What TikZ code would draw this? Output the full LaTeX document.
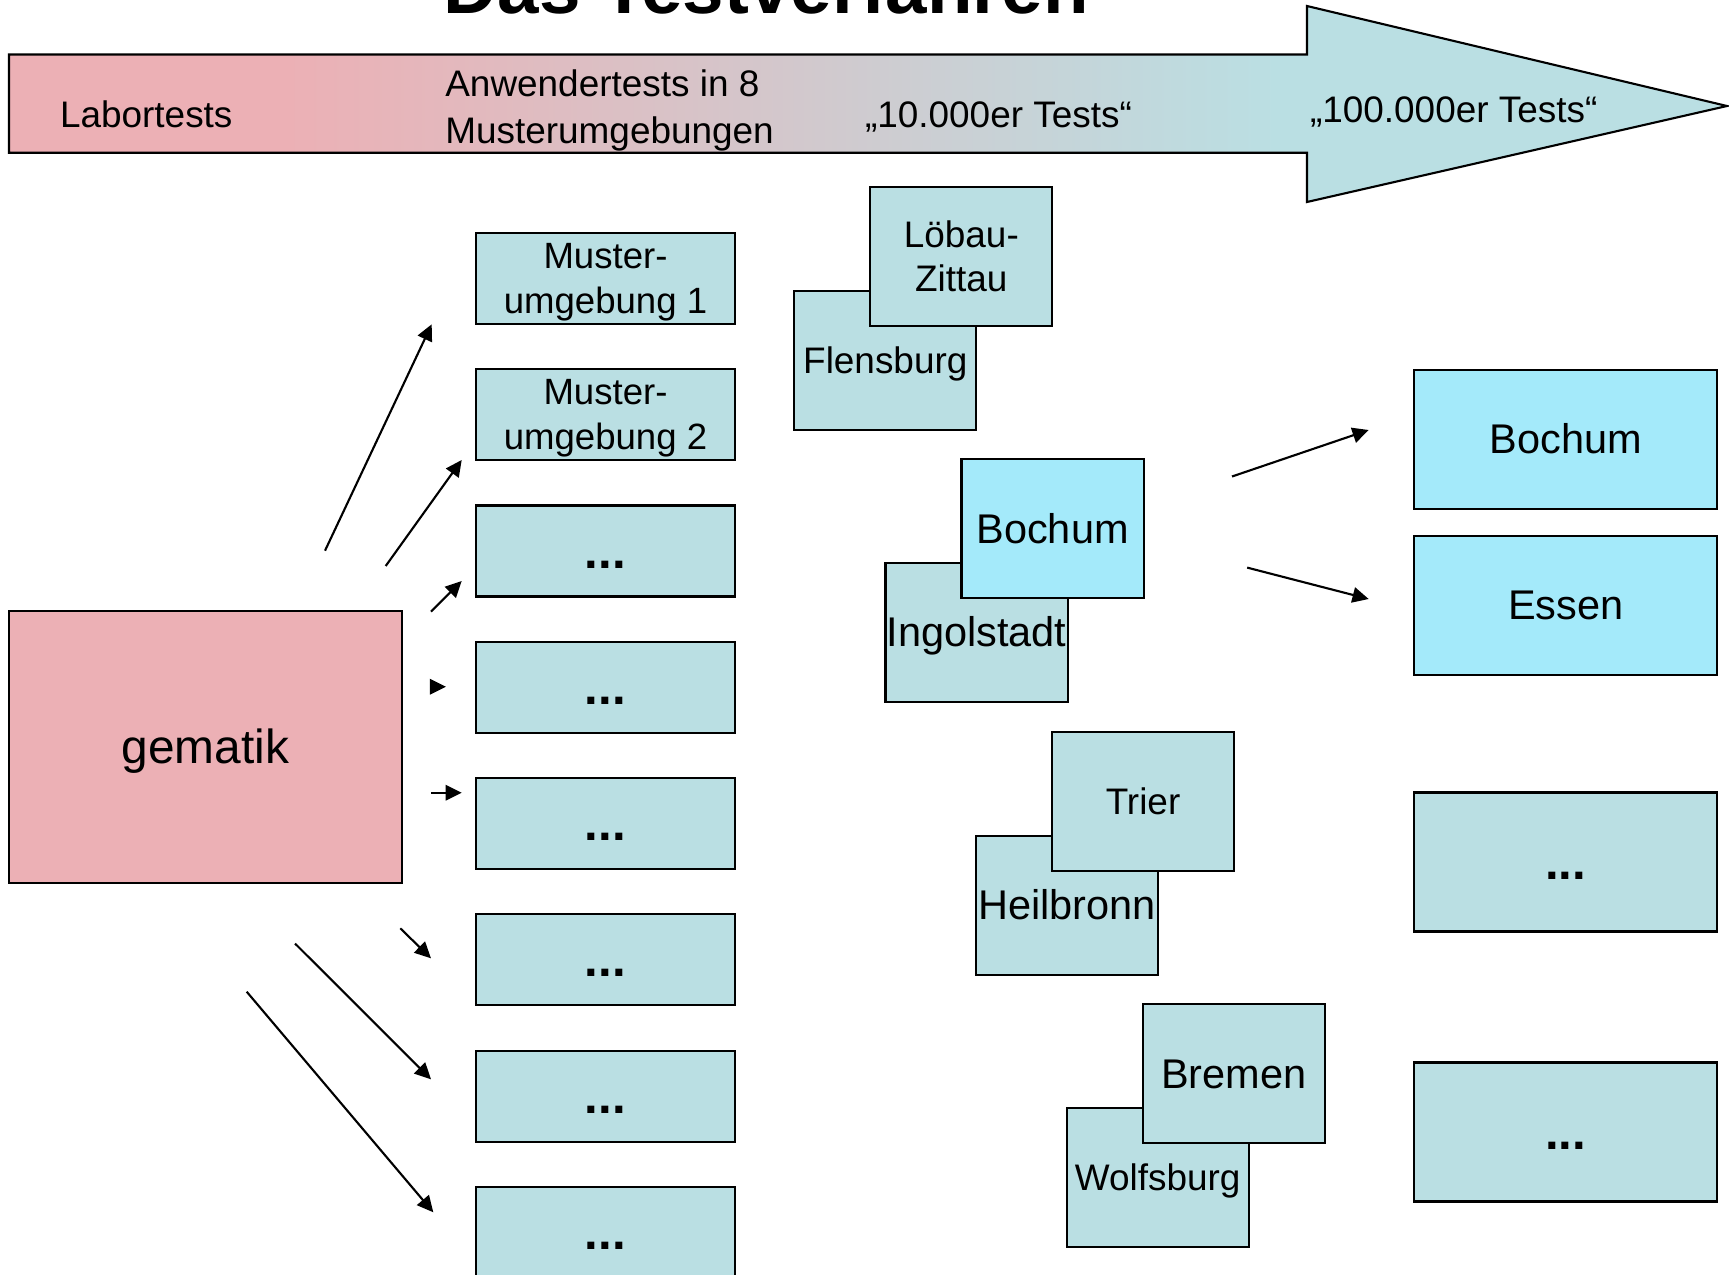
\documentclass[tikz,border=0pt]{standalone}
\usepackage{fontspec}
\setmainfont{Liberation Sans}
\usetikzlibrary{arrows.meta,positioning}

\definecolor{pinkc}{RGB}{236,176,181}
\definecolor{tealc}{RGB}{186,223,227}
\definecolor{cyanc}{RGB}{164,234,250}
\pgfdeclarehorizontalshading{bannershade}{100bp}{color(0bp)=(pinkc); color(33bp)=(pinkc); color(62bp)=(tealc); color(100bp)=(tealc)}
\newcommand{\lnstrut}{\rule[-0.212em]{0pt}{1.117em}}

\begin{document}
\begin{tikzpicture}[x=0.01cm,y=-0.01cm,>={Triangle[length=4.6pt,width=4.4pt]},
    line width=0.6pt,
    boxed/.style={draw,inner sep=0pt,line width=0.6pt},
    label text/.style={inner sep=0pt,font=\fontsize{10.5}{13.2}\selectfont},
    muster node/.style={boxed,fill=tealc,minimum width=2.58cm,minimum height=0.91cm,
      align=center,font=\fontsize{10.4}{12.8}\selectfont},
    city node/.style={boxed,fill=tealc,minimum width=1.82cm,minimum height=1.39cm,
      align=center,font=\fontsize{10.5}{12.7}\selectfont},
    big city/.style={city node,font=\fontsize{11.8}{14}\selectfont},
    site node/.style={boxed,minimum width=3.03cm,minimum height=1.39cm,
      font=\fontsize{11.8}{14}\selectfont},
    dots text/.style={font=\bfseries\fontsize{14}{16}\selectfont}]

\useasboundingbox (0,0) rectangle (1729,1275);

% title, cut at the top
\node[font=\bfseries\fontsize{21.2}{25}\selectfont,anchor=base,inner sep=0pt] (title) at (766.5,13) {Das Testverfahren};

% banner arrow
\shadedraw[shading=bannershade,line width=0.6pt] (9,54.5) -- (1307,54.5) -- (1307,6)
  -- (1727,106) -- (1307,202) -- (1307,152.7) -- (9,152.7) -- cycle;
\node[label text,anchor=west] (lab) at (59,114.6) {\lnstrut Labortests};
\node[label text,anchor=west,align=left] (anw) at (444.3,107.3) {\lnstrut Anwendertests in 8\\Musterumgebungen\lnstrut};
\node[label text,anchor=west] (t10) at (864,114.3) {\lnstrut „10.000er Tests“};
\node[label text,anchor=west] (t100) at (1309,110) {\lnstrut „100.000er Tests“};

\node[boxed,fill=pinkc,minimum width=3.93cm,minimum height=2.72cm,
  font=\fontsize{13.6}{16}\selectfont] (gem) at (205.3,747.2) {\lnstrut gematik};

% Musterumgebungen
\node[muster node] (m1) at (605.5,278.4) {\lnstrut Muster-\\umgebung 1\lnstrut};
\node[muster node] (m2) at (605.5,414.7) {\lnstrut Muster-\\umgebung 2\lnstrut};
\foreach \i in {3,...,8}
  \node[muster node,dots text] (m\i) at (605.5,{278.4+136.3*(\i-1)}) {\lnstrut...};

% 10.000er Tests
\node[city node] (flb) at (885.3,360.2) {\lnstrut Flensburg};
\node[city node,xshift=0.76cm,yshift=1.035cm] (lz) at (flb) {\lnstrut Löbau-\\Zittau\lnstrut};
\node[big city] (ing) at (976.5,632.3) {\lnstrut Ingolstadt};
\node[big city,fill=cyanc,xshift=0.76cm,yshift=1.035cm] (boc) at (ing) {\lnstrut Bochum};
\node[big city] (hei) at (1067,905.1) {\lnstrut Heilbronn};
\node[city node,xshift=0.76cm,yshift=1.035cm] (tri) at (hei) {\lnstrut Trier};
\node[city node] (wob) at (1157.7,1177.2) {\lnstrut Wolfsburg};
\node[big city,xshift=0.76cm,yshift=1.035cm] (bre) at (wob) {\lnstrut Bremen};

% 100.000er Tests
\node[site node,fill=cyanc] (rb) at (1565.8,439.4) {\lnstrut Bochum};
\node[site node,fill=cyanc] (re) at (1565.8,605.2) {\lnstrut Essen};
\node[site node,fill=tealc,dots text] (r3) at (1565.8,862) {\lnstrut...};
\node[site node,fill=tealc,dots text] (r4) at (1565.8,1132) {\lnstrut...};

% arrows
\coordinate (s1) at (325,550.7);    \coordinate (e1) at (431.7,324.3);
\coordinate (s2) at (385.7,566);    \coordinate (e2) at (461.7,460);
\coordinate (s3) at (431,611.7);    \coordinate (e3) at (461.7,581);
\coordinate (s4) at (430.7,686.7);  \coordinate (e4) at (446,686.7);
\coordinate (s5) at (431,792.7);    \coordinate (e5) at (461.7,792.7);
\coordinate (s6) at (400.3,928.3);  \coordinate (e6) at (431,958.3);
\coordinate (s7) at (295,943.5);    \coordinate (e7) at (431,1079.3);
\coordinate (s8) at (246.7,991.7);  \coordinate (e8) at (433.3,1212.3);
\coordinate (s9) at (1232,476.5);   \coordinate (e9) at (1368.7,430);
\coordinate (s10) at (1247.2,567.6); \coordinate (e10) at (1368.7,599);
\foreach \i in {1,...,10}
  \draw[->] (s\i) -- (e\i);

\end{tikzpicture}
\end{document}
